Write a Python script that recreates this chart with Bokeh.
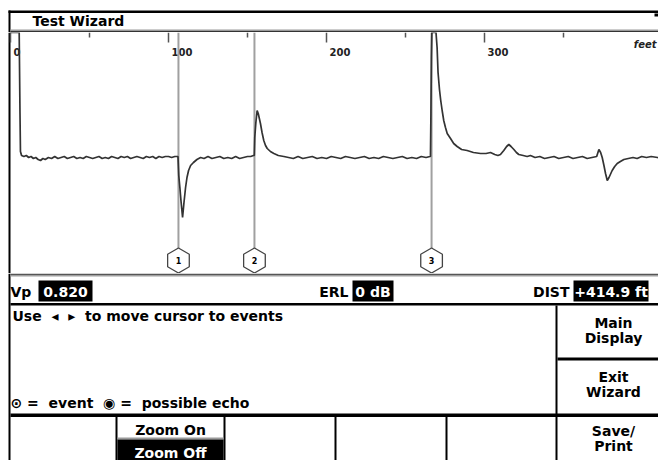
import math
from bokeh.plotting import figure
from bokeh.layouts import column
from bokeh.models import Range1d, ColumnDataSource
from bokeh.embed import file_html
from bokeh.resources import INLINE
from bokeh.core.properties import value

# ---------------- data ----------------
distance_ft = [
    0.0, 5.5, 6.0, 6.3, 7.0, 8.5, 10.0, 11.5, 13.0, 14.5, 16.0, 17.5, 19.0, 20.5, 22.0, 24.0, 26.0, 28.0,
    30.0, 32.0, 34.0, 36.0, 38.0, 40.0, 42.0, 44.0, 46.0, 48.0, 50.0, 52.0, 54.0, 56.0, 58.0, 60.0,
    62.0, 64.0, 66.0, 68.0, 70.0, 72.0, 74.0, 76.0, 78.0, 80.0, 82.0, 84.0, 86.0, 88.0, 90.0, 92.0,
    94.0, 96.0, 98.0, 100.0, 102.0, 104.0, 105.6,
    106.0, 106.5, 107.2, 108.0, 108.9, 109.8, 110.8, 111.7, 112.7, 114.0, 115.8, 118.0, 120.3,
    122.5, 125.0, 127.5, 130.0, 132.5, 135.0, 137.5, 140.0, 142.5, 145.0, 147.5, 150.0, 152.0, 153.8,
    154.3, 154.6, 155.3, 156.1, 156.8, 158.2, 159.2, 160.3, 161.4, 162.5, 164.5, 166.7, 169.5, 173.0,
    176.0, 179.0, 182.0, 185.0, 188.0, 191.0, 194.0, 197.0, 200.0, 203.0, 206.0, 209.0, 212.0, 215.0,
    218.0, 221.0, 224.0, 227.0, 230.0, 233.0, 236.0, 239.0, 242.0, 245.0, 248.0, 251.0, 254.0, 257.0,
    260.0, 263.0, 265.5,
    265.8, 266.1, 266.4, 266.7, 269.3, 270.0, 270.6, 271.5, 272.3, 273.2, 274.2, 275.3, 276.4, 278.5,
    280.5, 282.7, 285.5, 289.0, 293.0, 297.5, 301.0, 303.8, 306.5, 308.5, 310.1, 312.2, 314.0, 315.4,
    316.8, 318.6, 320.2, 321.7, 324.5, 327.0, 329.1, 332.0, 335.0, 338.0, 341.0, 344.0, 347.0, 350.0,
    353.0, 356.0, 359.0, 362.0, 365.0, 368.0, 371.0,
    372.4, 373.5, 374.5, 375.6, 376.6, 377.7, 378.8, 380.8, 382.4, 384.0, 386.0, 388.2, 391.0, 394.0,
    396.6, 399.5, 402.5, 405.5, 409.5, 412.0,
]
reflection = [
    1.25, 1.25, 0.45, 0.06, 0.02, 0.01, 0.02, 0.00, 0.01, -0.01, 0.00, -0.02, -0.03, -0.01, -0.02, 0.00, -0.01, 0.01,
    -0.01, 0.00, 0.01, -0.01, 0.00, 0.01, -0.01, 0.00, -0.01, 0.01, 0.00, -0.01, 0.00, 0.01, -0.01, 0.00,
    -0.01, 0.01, 0.00, -0.01, 0.01, 0.00, 0.01, -0.01, 0.00, 0.01, 0.00, -0.01, 0.01, 0.00, 0.01, -0.01,
    0.01, 0.00, 0.01, 0.01, 0.00, 0.01, 0.01,
    0.01, -0.18, -0.30, -0.45, -0.60, -0.45, -0.30, -0.20, -0.13, -0.08, -0.05, -0.02, 0.00,
    -0.01, 0.01, -0.01, 0.00, 0.01, -0.01, 0.00, -0.01, 0.01, -0.01, 0.00, 0.01, 0.01, 0.02,
    0.02, 0.20, 0.35, 0.47, 0.44, 0.34, 0.25, 0.17, 0.12, 0.09, 0.06, 0.04, 0.02, 0.01,
    0.00, -0.01, 0.01, -0.01, 0.00, 0.01, -0.01, 0.00, -0.01, 0.01, 0.00, -0.01, 0.01, 0.00,
    -0.01, 0.00, 0.01, -0.01, 0.00, -0.01, 0.01, 0.00, -0.01, 0.00, 0.01, -0.01, 0.00, -0.01,
    0.01, 0.00, 0.01,
    0.01, 0.45, 1.00, 1.25, 1.25, 1.10, 0.85, 0.68, 0.57, 0.47, 0.37, 0.30, 0.24, 0.19,
    0.14, 0.11, 0.08, 0.07, 0.05, 0.04, 0.04, 0.05, 0.03, 0.02, 0.03, 0.07, 0.11, 0.13,
    0.11, 0.08, 0.05, 0.03, 0.02, 0.01, 0.02, 0.00, 0.01, -0.01, 0.00, 0.01, -0.01, 0.00,
    0.01, -0.01, 0.00, 0.01, -0.01, 0.00, 0.01,
    0.08, 0.05, 0.00, -0.08, -0.16, -0.23, -0.20, -0.13, -0.09, -0.06, -0.04, -0.02, -0.01, 0.00,
    -0.01, 0.01, 0.00, 0.01, 0.00, -0.01,
]
event_ft = [106.3, 154.4, 266.5]
event_labels = ["1", "2", "3"]
major_tick_ft = [0, 100, 200, 300]
major_tick_labels = ["0", "100", "200", "300"]
minor_tick_ft = [50, 150, 250, 350]
unit_label = "feet"

NB = "\u00a0"
title_text = "Test Wizard"
vp_label, vp_value = "Vp", "0.820"
erl_label, erl_value = "ERL", "0 dB"
dist_label, dist_value = "DIST", "+414.9 ft"
message_text = "Use" + NB * 2 + "\u25c2" + NB * 2 + "\u25b8" + NB * 2 + "to move cursor to events"
legend_text = "\u2299 =" + NB * 2 + "event" + NB * 2 + "\u25c9 =" + NB * 2 + "possible echo"
side_buttons = [["Main", "Display"], ["Exit", "Wizard"], ["Save/", "Print"]]
zoom_options = ["Zoom On", "Zoom Off"]

# ---------------- helpers ----------------
W = 658
FONT = value("DejaVu Sans")


def bare(f):
    f.outline_line_color = None
    f.background_fill_color = "white"
    f.border_fill_color = "white"
    f.xgrid.visible = False
    f.ygrid.visible = False
    return f


def chrome_fig(h):
    f = figure(width=W, height=h, x_range=Range1d(0, W), y_range=Range1d(h, 0),
               output_backend="svg", toolbar_location=None, min_border=0,
               x_axis_location=None, y_axis_location=None)
    return bare(f)


def box(f, l, r, t, b, color="black"):
    f.quad(left=[l], right=[r], top=[t], bottom=[b], fill_color=color, line_color=None)


def txt(f, x, y, s, size="14px", color="black", align="left", style="bold"):
    # y is the vertical centre of the text
    f.text(x=[x], y=[y], text=[s], text_font=FONT, text_font_size=value(size),
           text_font_style=style, text_color=color, text_align=align,
           text_baseline="middle")


# ---------------- title bar (page y 0..32) ----------------
TH = 32
t = chrome_fig(TH)
box(t, 8, W, 10, 12.5)
box(t, 8, 10, 10, TH)
box(t, 654, W, 13, 16)
txt(t, 32, 20.5, title_text)
box(t, 10, W, 29, 30.5, "#9a9a9a")
box(t, 10, W, 30.5, 32, "#333333")

# ---------------- trace (page y 32..273) ----------------
PH = 241
px_per_ft = 1.58
y_top, y_bot = 1.25, -1.16
x_start = -10 / px_per_ft
x_end = (W - 10) / px_per_ft
p = figure(width=W, height=PH, x_range=Range1d(x_start, x_end), y_range=Range1d(y_bot, y_top),
           output_backend="svg", toolbar_location=None, min_border=0,
           x_axis_location=None, y_axis_location=None)
bare(p)

# outer frame edge (page x 8..10)
p.quad(left=[-2 / px_per_ft], right=[0], top=[y_top], bottom=[y_bot], fill_color="black", line_color=None)

# top ruler ticks
p.segment(x0=major_tick_ft, y0=[y_top] * 4, x1=major_tick_ft, y1=[y_top - 0.10] * 4,
          line_color="#555555", line_width=1.5)
p.segment(x0=minor_tick_ft, y0=[y_top] * 4, x1=minor_tick_ft, y1=[y_top - 0.05] * 4,
          line_color="#555555", line_width=1.5)
p.text(x=major_tick_ft, y=[1.055] * 4, text=major_tick_labels, x_offset=3,
       text_font=FONT, text_font_size=value("10px"), text_font_style="bold",
       text_color="#222222", text_align="left", text_baseline="middle")
p.text(x=[x_end], y=[1.135], text=[unit_label], x_offset=-2,
       text_font=FONT, text_font_size=value("10px"), text_font_style="bold italic",
       text_color="#222222", text_align="right", text_baseline="middle")

# cursors
hex_y = -1.03
p.segment(x0=event_ft, y0=[y_top] * 3, x1=event_ft, y1=[hex_y + 0.12] * 3,
          line_color="#a0a0a0", line_width=2)

# trace
src = ColumnDataSource(dict(x=distance_ft, y=reflection))
p.line("x", "y", source=src, line_color="#333333", line_width=1.7)

# event markers
p.scatter(x=event_ft, y=[hex_y] * 3, marker="hex", size=25, angle=math.pi / 2,
          fill_color="white", line_color="#444444", line_width=1.3)
p.text(x=event_ft, y=[hex_y] * 3, text=event_labels, text_font=FONT,
       text_font_size=value("8px"), text_font_style="bold", text_color="black",
       text_align="center", text_baseline="middle")

# ---------------- bottom panel (page y 273..460) ----------------
BH = 187
b = chrome_fig(BH)
box(b, 8, 10, 0, BH)
box(b, 10, W, 0, 1.5, "#555555")
box(b, 10, W, 1.5, 3, "#a0a0a0")
# status row
txt(b, 10, 18.5, vp_label)
box(b, 38, 92, 7, 28)
txt(b, 65, 18.5, vp_value, color="white", align="center")
txt(b, 348, 18.5, erl_label, align="right")
box(b, 352, 393, 7, 28)
txt(b, 372.5, 18.5, erl_value, color="white", align="center")
txt(b, 569, 18.5, dist_label, align="right")
box(b, 573, 648, 7, 28)
txt(b, 610.5, 18.5, dist_value, color="white", align="center")
box(b, 10, W, 29.5, 32)
# message area
txt(b, 12, 42, message_text)
txt(b, 10, 129.5, legend_text)
box(b, 555, 557, 32, BH)
box(b, 557, W, 84, 87)
box(b, 10, W, 140, 143.5)
# side buttons
cx = 613
txt(b, cx, 49, side_buttons[0][0], align="center")
txt(b, cx, 64, side_buttons[0][1], align="center")
txt(b, cx, 103, side_buttons[1][0], align="center")
txt(b, cx, 118.5, side_buttons[1][1], align="center")
txt(b, cx, 157, side_buttons[2][0], align="center")
txt(b, cx, 172.5, side_buttons[2][1], align="center")
# bottom soft keys
for xl in [115, 223, 334, 445]:
    box(b, xl, xl + 2, 143.5, BH)
txt(b, 170, 156, zoom_options[0], align="center")
box(b, 117, 223, 164, 166, "#9a9a9a")
box(b, 117, 223, 166, BH)
txt(b, 170, 179, zoom_options[1], color="white", align="center")

layout = column(t, p, b, spacing=0)
open("out.html", "w").write(file_html(layout, INLINE))
